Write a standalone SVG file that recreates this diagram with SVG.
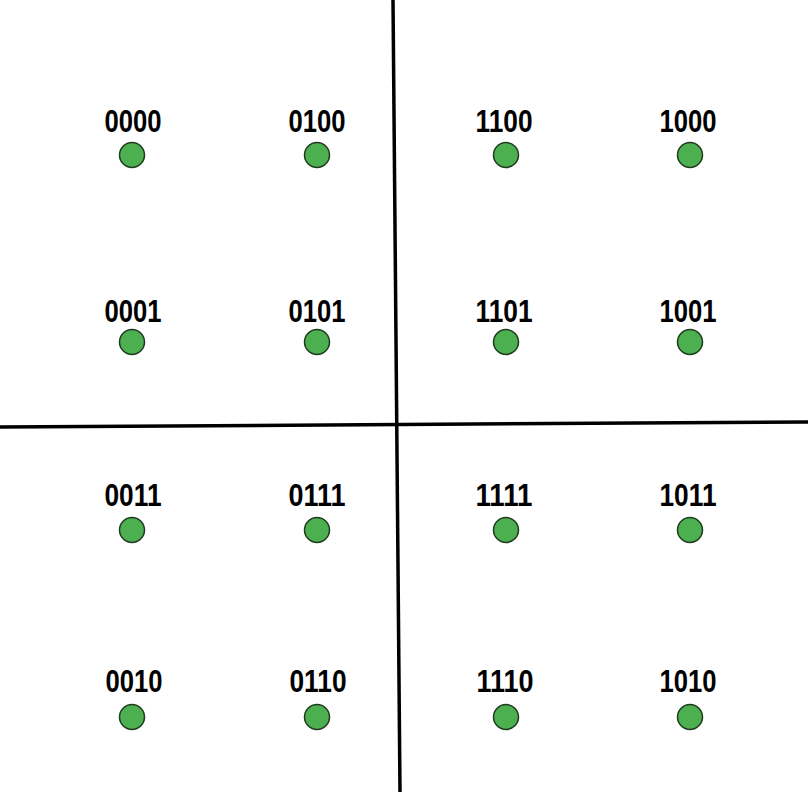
<svg xmlns="http://www.w3.org/2000/svg" width="808" height="792" viewBox="0 0 808 792">
<style>
.dot{fill:#4caf50;stroke:#1f3a1f;stroke-width:1.5}
.lbl{font-family:"Liberation Sans Narrow","Liberation Sans",Arial,sans-serif;font-weight:bold;font-size:32px;fill:#000;text-anchor:middle}
.axis{stroke:#000;stroke-width:3.5;fill:none}
</style>
<rect width="808" height="792" fill="#fff"/>
<g id="connectors">
<line class="axis" x1="393" y1="0" x2="400" y2="792"/>
<line class="axis" x1="0" y1="427" x2="808" y2="422"/>
</g>
<g id="n0000"><text class="lbl" x="133" y="132" textLength="57" lengthAdjust="spacingAndGlyphs">0000</text><circle class="dot" cx="132" cy="155" r="12.5"/></g>
<g id="n0100"><text class="lbl" x="317" y="132" textLength="57" lengthAdjust="spacingAndGlyphs">0100</text><circle class="dot" cx="317" cy="155" r="12.5"/></g>
<g id="n1100"><text class="lbl" x="504" y="132" textLength="57" lengthAdjust="spacingAndGlyphs">1100</text><circle class="dot" cx="506" cy="155" r="12.5"/></g>
<g id="n1000"><text class="lbl" x="688" y="132" textLength="57" lengthAdjust="spacingAndGlyphs">1000</text><circle class="dot" cx="690" cy="155" r="12.5"/></g>
<g id="n0001"><text class="lbl" x="133" y="322" textLength="57" lengthAdjust="spacingAndGlyphs">0001</text><circle class="dot" cx="132" cy="342" r="12.5"/></g>
<g id="n0101"><text class="lbl" x="317" y="322" textLength="57" lengthAdjust="spacingAndGlyphs">0101</text><circle class="dot" cx="317" cy="342" r="12.5"/></g>
<g id="n1101"><text class="lbl" x="504" y="322" textLength="57" lengthAdjust="spacingAndGlyphs">1101</text><circle class="dot" cx="506" cy="342" r="12.5"/></g>
<g id="n1001"><text class="lbl" x="688" y="322" textLength="57" lengthAdjust="spacingAndGlyphs">1001</text><circle class="dot" cx="690" cy="342" r="12.5"/></g>
<g id="n0011"><text class="lbl" x="133" y="506" textLength="57" lengthAdjust="spacingAndGlyphs">0011</text><circle class="dot" cx="132" cy="530" r="12.5"/></g>
<g id="n0111"><text class="lbl" x="317" y="506" textLength="57" lengthAdjust="spacingAndGlyphs">0111</text><circle class="dot" cx="317" cy="530" r="12.5"/></g>
<g id="n1111"><text class="lbl" x="504" y="506" textLength="57" lengthAdjust="spacingAndGlyphs">1111</text><circle class="dot" cx="506" cy="530" r="12.5"/></g>
<g id="n1011"><text class="lbl" x="688" y="506" textLength="57" lengthAdjust="spacingAndGlyphs">1011</text><circle class="dot" cx="690" cy="530" r="12.5"/></g>
<g id="n0010"><text class="lbl" x="134" y="692" textLength="57" lengthAdjust="spacingAndGlyphs">0010</text><circle class="dot" cx="132" cy="717" r="12.5"/></g>
<g id="n0110"><text class="lbl" x="318" y="692" textLength="57" lengthAdjust="spacingAndGlyphs">0110</text><circle class="dot" cx="317" cy="717" r="12.5"/></g>
<g id="n1110"><text class="lbl" x="505" y="692" textLength="57" lengthAdjust="spacingAndGlyphs">1110</text><circle class="dot" cx="506" cy="717" r="12.5"/></g>
<g id="n1010"><text class="lbl" x="688" y="692" textLength="57" lengthAdjust="spacingAndGlyphs">1010</text><circle class="dot" cx="690" cy="717" r="12.5"/></g>
</svg>
